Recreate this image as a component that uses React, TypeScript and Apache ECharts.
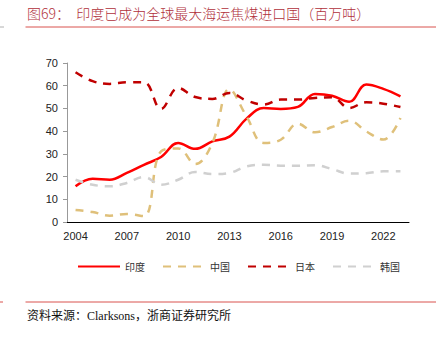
import React, { useEffect, useRef } from "react";
import * as echarts from "echarts";

const years = ["2004","2005","2006","2007","2008","2009","2010","2011","2012","2013","2014","2015","2016","2017","2018","2019","2020","2021","2022","2023"];
const india = [15.7, 19, 18.6, 21.6, 25.2, 28.6, 34.8, 32.2, 35.5, 37.6, 45.5, 50.2, 49.8, 50.7, 56.4, 55.6, 52.9, 60.5, 58.6, 55.3];
const china = [5.3, 4.4, 2.8, 3.5, 2.6, 31.1, 32.4, 25.5, 34.8, 58.5, 46.5, 34.8, 36.2, 43.3, 39.5, 41.8, 44.6, 39.9, 36.3, 45.8];
const japan = [65.9, 62, 60.8, 61.5, 61.5, 49.8, 59, 55, 54.2, 56.8, 53.5, 51.7, 53.9, 53.9, 54.6, 54.9, 50.2, 52.7, 52.1, 50.6];
const korea = [18.6, 16.4, 15.7, 17.2, 19.8, 16.4, 18.6, 22, 21.1, 21.6, 24.5, 25.2, 24.8, 24.8, 25, 23.3, 21.3, 21.5, 22.3, 22.3];
const seriesNames = ["印度", "中国", "日本", "韩国"];
const titleText = "图69：  印度已成为全球最大海运焦煤进口国（百万吨）";
const sourceText = "资料来源：Clarksons，浙商证券研究所";

export default function App() {
  const ref = useRef<HTMLDivElement>(null);
  useEffect(() => {
    if (!ref.current) return;
    const chart = echarts.init(ref.current, null, { renderer: "svg" });
    const mk = (name: string, data: number[], color: string, dashed: boolean) => ({
      name,
      type: "line",
      data,
      smooth: 0.4,
      symbol: "none",
      lineStyle: { color, width: 2.5, type: dashed ? [8, 7] : "solid" },
      itemStyle: { color },
    });
    chart.setOption({
      animation: false,
      backgroundColor: "#ffffff",
      grid: { left: 67, right: 30, top: 63, bottom: 116 },
      legend: {
        left: 72,
        top: 256,
        itemWidth: 42,
        itemHeight: 14,
        itemGap: 17,
        itemStyle: { opacity: 0 },
        textStyle: { fontSize: 10, color: "#333", fontFamily: "Noto Sans CJK SC" },
        data: seriesNames,
      },
      xAxis: {
        type: "category",
        data: years,
        boundaryGap: true,
        axisLine: { lineStyle: { color: "#000", width: 1 } },
        axisTick: { interval: 2, length: 4, lineStyle: { color: "#000" } },
        axisLabel: { interval: 2, margin: 8, fontSize: 11, color: "#222", fontFamily: "Liberation Sans" },
        splitLine: { show: false },
      },
      yAxis: {
        type: "value",
        min: 0,
        max: 70,
        interval: 10,
        axisLine: { show: true, lineStyle: { color: "#999", width: 1 } },
        axisTick: { show: true, length: 4, lineStyle: { color: "#999" } },
        axisLabel: { margin: 9, fontSize: 11, color: "#222", fontFamily: "Liberation Sans" },
        splitLine: { show: false },
      },
      series: [
        mk(seriesNames[0], india, "#FF0000", false),
        mk(seriesNames[1], china, "#DFC07A", true),
        mk(seriesNames[2], japan, "#C00000", true),
        mk(seriesNames[3], korea, "#D0D0D0", true),
      ],
      graphic: [
        {
          type: "text",
          left: 27,
          top: 6,
          style: { text: titleText, fontSize: 14, fill: "#B0303A", fontFamily: "Noto Sans CJK SC", fontWeight: 300 },
        },
        { type: "line", shape: { x1: 25.5, y1: 27, x2: 436, y2: 27 }, style: { stroke: "#D9534F", lineWidth: 1 } },
        { type: "line", shape: { x1: 0, y1: 27, x2: 4, y2: 27 }, style: { stroke: "#B0B0B0", lineWidth: 1 } },
        { type: "line", shape: { x1: 25.5, y1: 302, x2: 436, y2: 302 }, style: { stroke: "#D9534F", lineWidth: 1 } },
        { type: "line", shape: { x1: 0, y1: 302, x2: 3, y2: 302 }, style: { stroke: "#D9534F", lineWidth: 1 } },
        {
          type: "text",
          left: 27,
          top: 310,
          style: { text: sourceText, fontSize: 12, fill: "#111", fontFamily: "Liberation Serif, Noto Sans CJK SC" },
        },
      ],
    });
    return () => chart.dispose();
  }, []);
  return <div ref={ref} style={{ position: "absolute", left: 0, top: 0, width: 439, height: 338 }} />;
}
